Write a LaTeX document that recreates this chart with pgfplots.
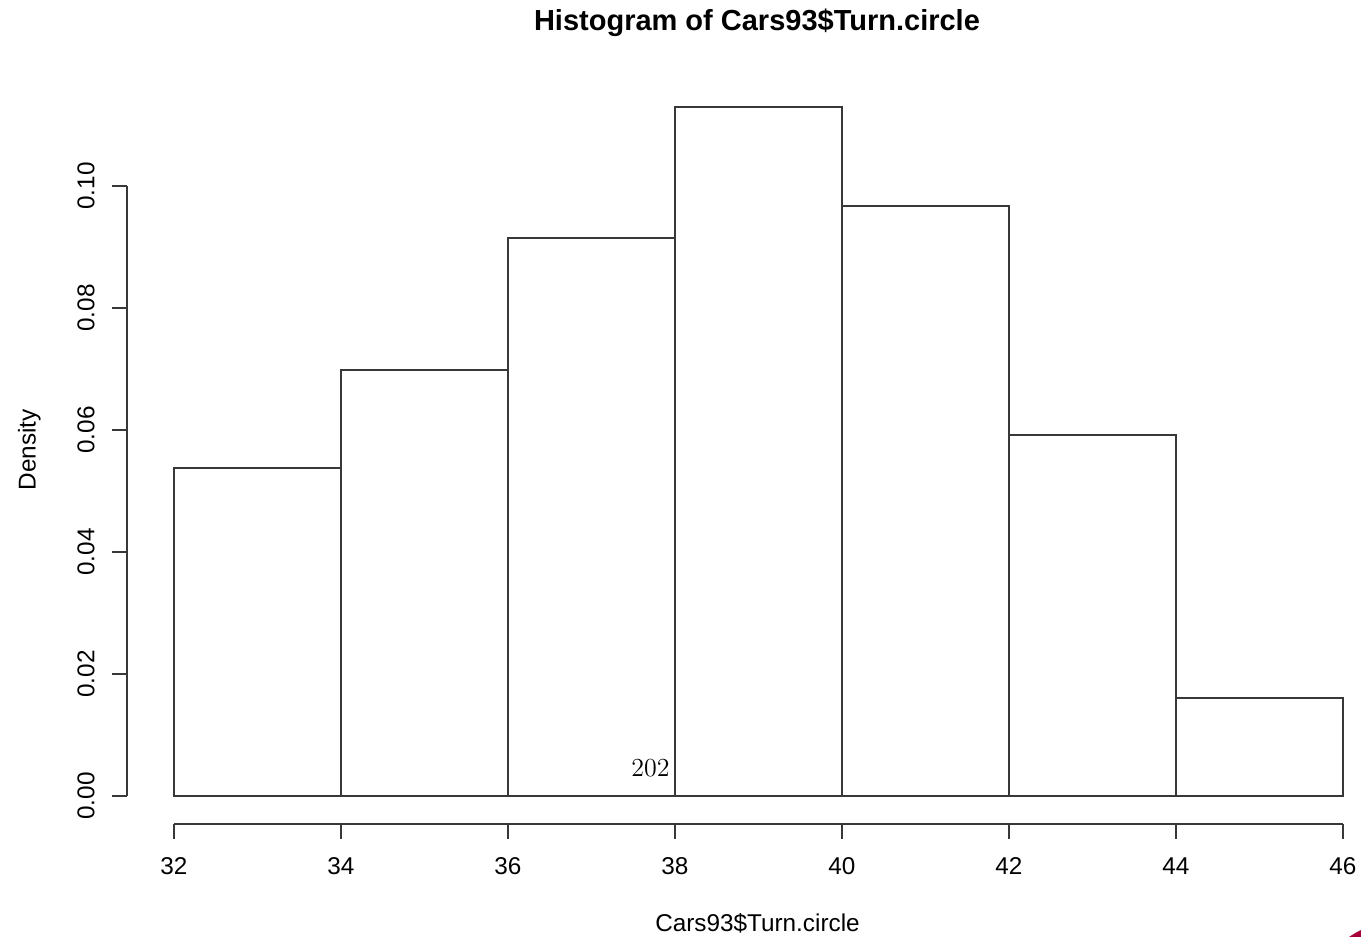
\documentclass[border=0pt]{standalone}
\usepackage{pgfplots}
\usepackage{pgfplotstable}
\pgfplotsset{compat=1.18}
\usepackage{fontspec}
\setmainfont{Liberation Sans}
\newfontfamily\lmr{Latin Modern Roman}
\definecolor{blob}{RGB}{168,0,58}
\colorlet{ink}{black!78}

% Turning circle of the 93 cars: density = count / (93 * 2)
\pgfplotstableread{
left  density
32    0.053763
34    0.069892
36    0.091398
38    0.112903
40    0.096774
42    0.059140
44    0.016129
46    0.016129
}\turncircle

\begin{document}
\begin{tikzpicture}
\useasboundingbox (0pt,0pt) rectangle (680.5pt,-468.5pt);
\begin{axis}[
  at={(63.6pt,-411.75pt)}, anchor=south west,
  scale only axis, width=631.26pt, height=371.9pt,
  xmin=31.44, xmax=46.56, ymin=-0.004516, ymax=0.117419,
  axis line style={draw=none},
  tick pos=left, tick align=outside, major tick length=7.5pt,
  tick style={ink, line width=1pt},
  xtick={32,34,36,38,40,42,44,46},
  ytick={0,0.02,0.04,0.06,0.08,0.10},
  scaled y ticks=false,
  /pgf/number format/assume math mode=true,
  yticklabel style={/pgf/number format/fixed, /pgf/number format/fixed zerofill, /pgf/number format/precision=2},
  ticklabel style={font=\fontsize{12.15}{14}\selectfont, inner sep=0pt},
  xticklabel style={anchor=base, yshift=-18pt},
  yticklabel style={xshift=-8.85pt, rotate=90, anchor=base},
  clip=false,
]
\addplot[ybar interval, fill=white, draw=ink, line width=1pt] table[x=left, y=density] {\turncircle};
\draw[ink, line width=1pt] (axis cs:32,-0.004516) -- (axis cs:46,-0.004516);
\draw[ink, line width=1pt] (axis cs:31.44,0) -- (axis cs:31.44,0.10);
\node[anchor=base east, inner sep=0pt, font=\lmr\fontsize{13}{15}\selectfont] at (axis cs:37.94,0.00316) {202};
\end{axis}
\node[anchor=base, inner sep=0pt, font=\bfseries\fontsize{14.5}{17}\selectfont] at (378.5pt,-15.5pt) {Histogram of Cars93\$Turn.circle};
\node[anchor=base, inner sep=0pt, font=\fontsize{12.15}{14}\selectfont] at (378.75pt,-465.85pt) {Cars93\$Turn.circle};
\node[anchor=base, rotate=90, inner sep=0pt, font=\fontsize{12.15}{14}\selectfont] at (17.8pt,-225pt) {Density};
\fill[blob] (700pt,-505pt) circle (44.5pt);
\end{tikzpicture}
\end{document}
